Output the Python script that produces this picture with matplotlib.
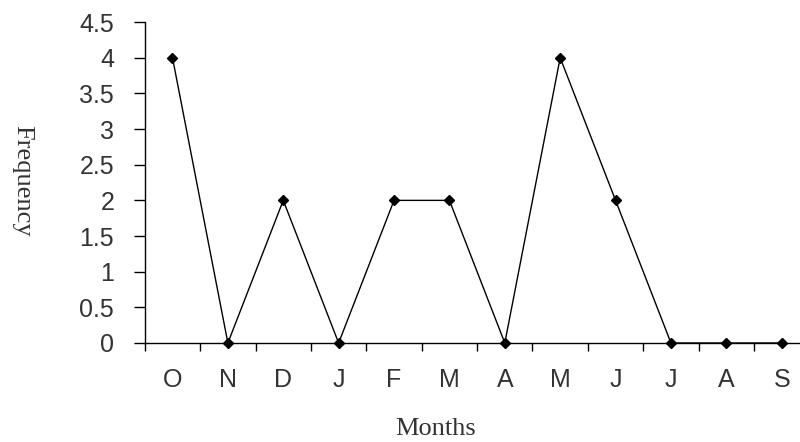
#!/usr/bin/env python3

import matplotlib
matplotlib.use('Agg')
import matplotlib.pyplot as plt
from matplotlib.ticker import FixedLocator

months = ['O', 'N', 'D', 'J', 'F', 'M', 'A', 'M', 'J', 'J', 'A', 'S']
frequency = [4, 0, 2, 0, 2, 2, 0, 4, 2, 0, 0, 0]
y_ticks = [0, 0.5, 1, 1.5, 2, 2.5, 3, 3.5, 4, 4.5]
y_tick_labels = ['0', '0.5', '1', '1.5', '2', '2.5', '3', '3.5', '4', '4.5']


def main():
    plt.rcParams['font.family'] = ['Liberation Sans', 'DejaVu Sans']

    fig = plt.figure(figsize=(8, 4.42), dpi=100)
    ax = fig.add_axes([0.181, 0.224, 0.819, 0.726])

    x = list(range(len(months)))
    ax.plot(x, frequency, color='black', linewidth=1.0, marker='D',
            markersize=5.5, markerfacecolor='black', clip_on=False, zorder=3)

    ax.set_xlim(-0.5, len(months) - 0.67)
    ax.set_ylim(0, 4.5)

    ax.spines['top'].set_visible(False)
    ax.spines['right'].set_visible(False)
    for s in ('left', 'bottom'):
        ax.spines[s].set_linewidth(1.0)
        ax.spines[s].set_color('black')

    # category labels sit between the tick marks
    ax.set_xticks(x)
    ax.set_xticklabels(months, fontsize=18, color='#333333')
    ax.tick_params(axis='x', which='major', length=0, pad=18)
    ax.xaxis.set_minor_locator(FixedLocator([i - 0.5 for i in x]))
    ax.tick_params(axis='x', which='minor', length=6, width=1.0,
                   direction='out', color='black')

    ax.set_yticks(y_ticks)
    ax.set_yticklabels(y_tick_labels, fontsize=18, color='#333333')
    ax.tick_params(axis='y', length=8, width=1.0, pad=14, color='black')

    fig.text(0.544, 0.03, 'Months', family='Liberation Serif',
             fontsize=19, ha='center', va='center', color='#333333')
    fig.text(0.028, 0.59, 'Frequency', family='Liberation Serif',
             fontsize=19, rotation=270, ha='center', va='center',
             color='#333333')

    fig.savefig('out.png', dpi=100)


if __name__ == '__main__':
    main()
